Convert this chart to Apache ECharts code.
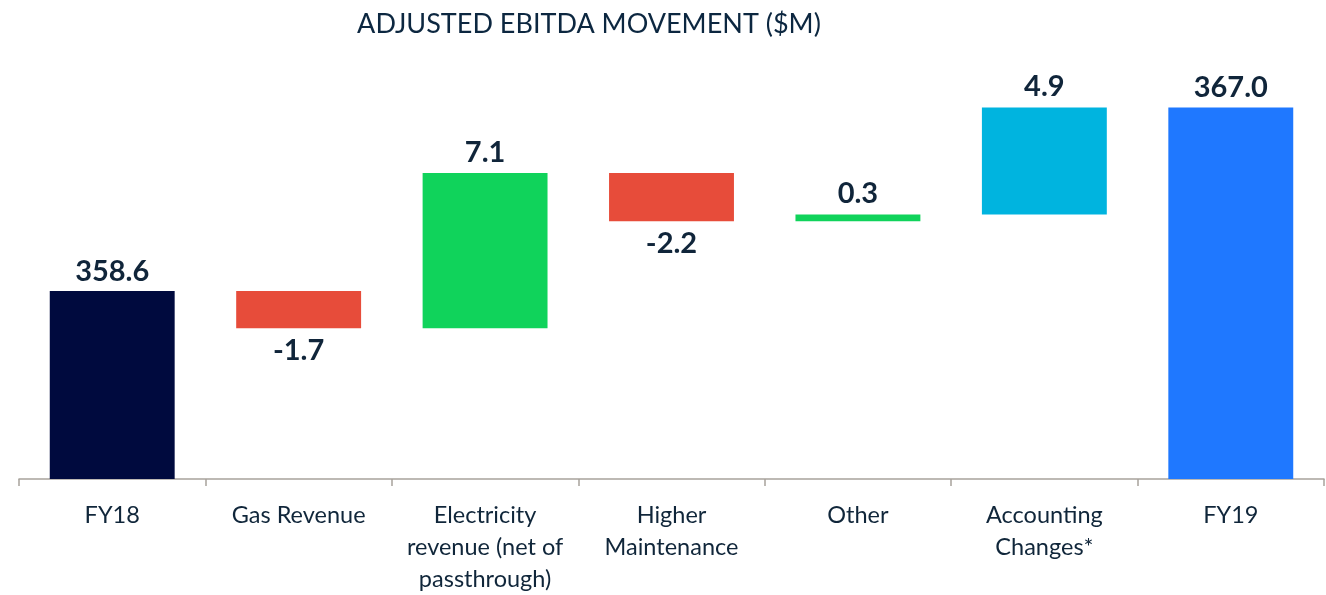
<!DOCTYPE html>
<html lang="en">
<head>
    <meta charset="UTF-8">
    <title>Adjusted EBITDA movement</title>
    <script src="https://cdn.jsdelivr.net/npm/echarts@6/dist/echarts.min.js"></script>
    <style>
        html, body { margin: 0; padding: 0; background: #fff; }
    </style>
</head>
<body>
<div id="mybox" style="height: 595px;width: 1326px;"></div>
<script>
    // data
    var categories = ['FY18', 'Gas Revenue', 'Electricity\nrevenue (net of\npassthrough)', 'Higher\nMaintenance', 'Other', 'Accounting\nChanges*', 'FY19'];
    var startValue = 358.6;
    var deltas = [-1.7, 7.1, -2.2, 0.3, 4.9];
    var endValue = 367.0;
    var barColors = ['#000a3e', '#e74c3a', '#10d35b', '#e74c3a', '#10d35b', '#00b4df', '#1f78ff'];
    var axisFloor = 350;

    // build waterfall: invisible base + visible part
    var baseData = [axisFloor];
    var barData = [{value: startValue - axisFloor, itemStyle: {color: barColors[0]}, label: {position: 'top', formatter: startValue.toFixed(1)}}];
    var running = startValue;
    deltas.forEach(function (d, i) {
        var next = running + d;
        baseData.push(Math.min(running, next));
        barData.push({
            value: Math.abs(d),
            itemStyle: {color: barColors[i + 1]},
            label: {position: d < 0 ? 'bottom' : 'top', distance: d < 0 ? 8 : 6, formatter: d.toFixed(1)}
        });
        running = next;
    });
    baseData.push(axisFloor);
    barData.push({value: endValue - axisFloor, itemStyle: {color: barColors[6]}, label: {position: 'top', formatter: endValue.toFixed(1)}});

    var mychart = echarts.init(document.getElementById('mybox'));
    mychart.setOption({
        animation: false,
        title: {
            text: 'ADJUSTED EBITDA MOVEMENT ($M)',
            left: 584,
            textAlign: 'center',
            top: 6,
            textStyle: {
                fontFamily: 'Lato',
                fontWeight: 'normal',
                fontSize: 27,
                color: '#0c2740'
            }
        },
        grid: {left: 19, right: 2, top: 42, bottom: 113},
        xAxis: {
            type: 'category',
            data: categories,
            axisLine: {lineStyle: {color: '#a8a29c', width: 1.5}},
            axisTick: {show: true, length: 7, lineStyle: {color: '#a8a29c', width: 1.5}},
            axisLabel: {
                interval: 0,
                margin: 20,
                fontFamily: 'Lato',
                fontSize: 23.5,
                lineHeight: 32,
                color: '#10263a'
            }
        },
        yAxis: {
            type: 'value',
            min: axisFloor,
            max: 370,
            show: false
        },
        series: [{
            name: 'base',
            type: 'bar',
            stack: 'wf',
            barWidth: '67%',
            itemStyle: {color: 'transparent'},
            data: baseData,
            silent: true
        }, {
            name: 'change',
            type: 'bar',
            stack: 'wf',
            barWidth: '67%',
            label: {
                show: true,
                fontFamily: 'Lato',
                fontWeight: 'bold',
                fontSize: 29,
                color: '#10253a'
            },
            data: barData
        }]
    });
</script>
</body>
</html>
